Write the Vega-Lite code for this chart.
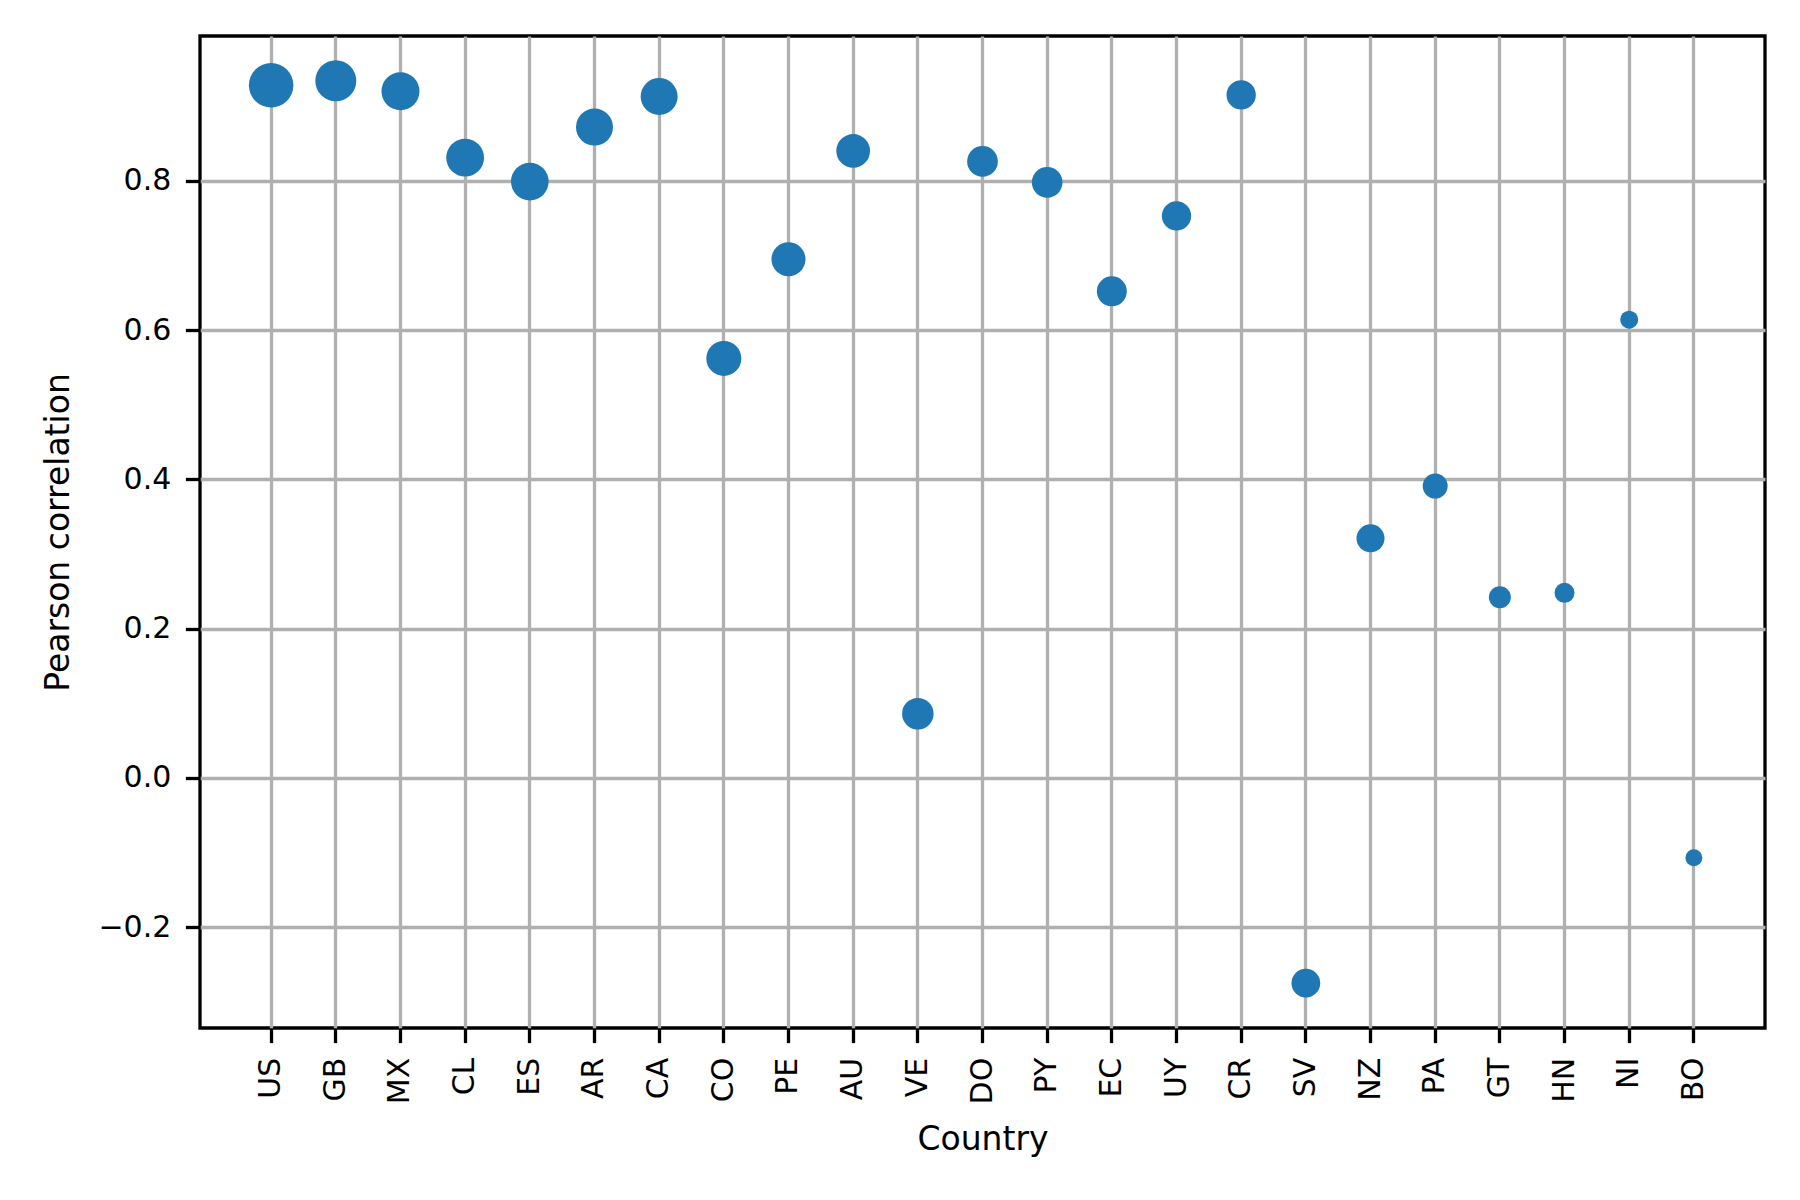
{
  "$schema": "https://vega.github.io/schema/vega-lite/v6.json",
  "width": 1565,
  "height": 992,
  "autosize": {"type": "none"},
  "padding": {"left": 200, "top": 36, "right": 35, "bottom": 172},
  "background": "white",
  "config": {
    "view": {"stroke": "black", "strokeWidth": 3.3},
    "font": "DejaVu Sans",
    "axis": {
      "zindex": 1,
      "domain": false,
      "grid": true,
      "gridColor": "#b0b0b0",
      "gridWidth": 3.3,
      "gridOpacity": 1,
      "tickColor": "black",
      "tickWidth": 3.3,
      "tickSize": 14.6,
      "labelPadding": 14.6,
      "labelFont": "DejaVu Sans",
      "labelFontSize": 30,
      "labelColor": "black",
      "titleFont": "DejaVu Sans",
      "titleFontSize": 33,
      "titleFontWeight": "normal",
      "titleColor": "black"
    }
  },
  "data": {
    "values": [
      {"country": "US", "r": 0.928, "n": 1980},
      {"country": "GB", "r": 0.934, "n": 1681},
      {"country": "MX", "r": 0.920, "n": 1444},
      {"country": "CL", "r": 0.831, "n": 1430},
      {"country": "ES", "r": 0.799, "n": 1421},
      {"country": "AR", "r": 0.872, "n": 1369},
      {"country": "CA", "r": 0.913, "n": 1369},
      {"country": "CO", "r": 0.562, "n": 1225},
      {"country": "PE", "r": 0.695, "n": 1156},
      {"country": "AU", "r": 0.840, "n": 1136},
      {"country": "VE", "r": 0.086, "n": 992},
      {"country": "DO", "r": 0.826, "n": 942},
      {"country": "PY", "r": 0.798, "n": 942},
      {"country": "EC", "r": 0.652, "n": 900},
      {"country": "UY", "r": 0.753, "n": 858},
      {"country": "CR", "r": 0.915, "n": 858},
      {"country": "SV", "r": -0.275, "n": 824},
      {"country": "NZ", "r": 0.321, "n": 784},
      {"country": "PA", "r": 0.391, "n": 625},
      {"country": "GT", "r": 0.242, "n": 484},
      {"country": "HN", "r": 0.248, "n": 400},
      {"country": "NI", "r": 0.614, "n": 324},
      {"country": "BO", "r": -0.107, "n": 289}
    ]
  },
  "mark": {"type": "circle", "color": "#1f77b4", "opacity": 1, "filled": true},
  "encoding": {
    "x": {
      "field": "country",
      "type": "nominal",
      "sort": null,
      "scale": {"type": "band", "paddingInner": 0, "paddingOuter": 0.6},
      "axis": {"title": "Country", "labelAngle": -90, "labelAlign": "right", "labelBaseline": "middle", "titlePadding": 20, "bandPosition": 0.5, "tickBand": "center"}
    },
    "y": {
      "field": "r",
      "type": "quantitative",
      "scale": {"domain": [-0.335, 0.994], "nice": false, "zero": false},
      "axis": {"title": "Pearson correlation", "values": [-0.2, 0, 0.2, 0.4, 0.6, 0.8], "format": ".1f", "titlePadding": 22}
    },
    "size": {
      "field": "n",
      "type": "quantitative",
      "scale": {"type": "linear", "domain": [0, 2025], "range": [0, 2025]},
      "legend": null
    }
  }
}
